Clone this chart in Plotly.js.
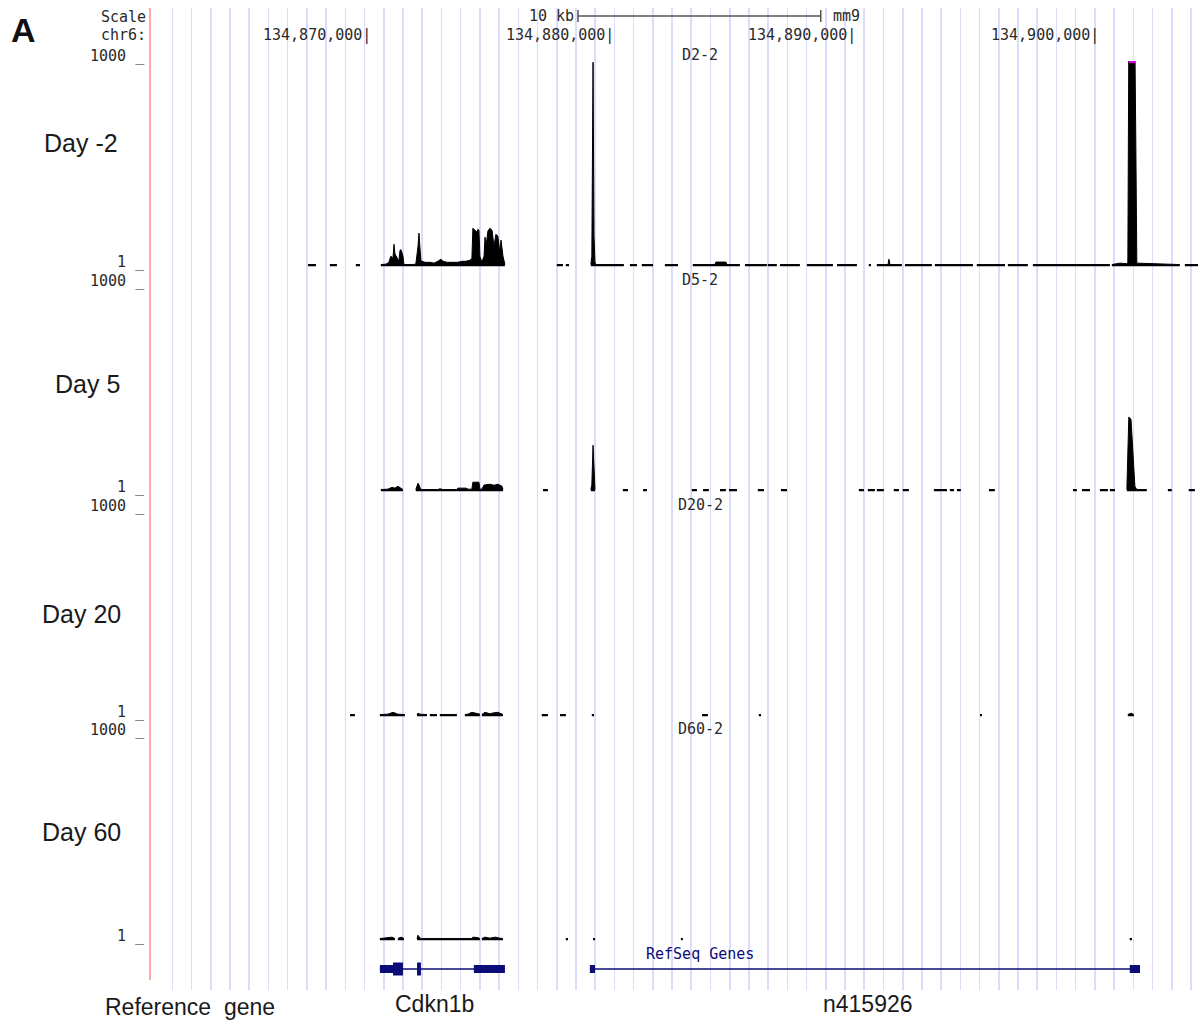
<!DOCTYPE html>
<html><head><meta charset="utf-8">
<script src="https://cdn.plot.ly/plotly-3.0.1.min.js"></script>
<style>html,body{margin:0;padding:0;background:#fff;}#chart{width:1198px;height:1022px;}</style>
</head><body><div id="chart"></div>
<script>
// ---------------- DATA (positions in kb on chr6, mm9; signal in view units) ----------------
const chromName = 'chr6:';
const assembly = 'mm9';
const viewStartKb = 134860.94, viewEndKb = 134904.11;
const rulerTicksKb = [134870, 134880, 134890, 134900];
const scaleBarStartKb = 134878.57, scaleBarLenKb = 10;
const trackNames = ['D2-2', 'D5-2', 'D20-2', 'D60-2'];
const trackLabels = ['Day -2', 'Day 5', 'Day 20', 'Day 60'];
const viewLimits = [1, 1000];

// Day -2 (D2-2) coverage segments
const d2Pos = [
  [134867.45, 134867.78], [134868.35, 134868.64], [134869.42, 134869.59],
  [134870.45, 134870.66, 134870.78, 134870.86, 134870.95, 134870.99, 134871.03, 134871.11, 134871.19, 134871.24,
   134871.28, 134871.36, 134871.40, 134871.73, 134871.89, 134871.98, 134872.02, 134872.06, 134872.10, 134872.14,
   134872.27, 134872.47, 134872.64, 134872.80, 134872.92, 134873.01, 134873.17, 134873.38, 134873.62, 134873.79,
   134873.95, 134874.12, 134874.20, 134874.24, 134874.32, 134874.41, 134874.45, 134874.49, 134874.53, 134874.61,
   134874.70, 134874.74, 134874.78, 134874.86, 134874.94, 134875.03, 134875.11, 134875.19, 134875.27, 134875.35,
   134875.40, 134875.48, 134875.56],
  [134877.70, 134877.95], [134878.07, 134878.20],
  [134879.10, 134879.14, 134879.19, 134879.23, 134879.27, 134879.31, 134880.46],
  [134880.71, 134881.00], [134881.20, 134881.66], [134882.15, 134882.69],
  [134883.30, 134884.21, 134884.25, 134884.66, 134884.71, 134885.24],
  [134885.45, 134886.35], [134886.39, 134886.76], [134886.89, 134887.71], [134888.00, 134889.07],
  [134889.24, 134890.06], [134890.55, 134890.64],
  [134890.88, 134891.34, 134891.38, 134891.42, 134891.91],
  [134892.04, 134893.15], [134893.27, 134894.84], [134895.00, 134896.16], [134896.28, 134897.10],
  [134897.31, 134900.48],
  [134900.56, 134900.89, 134901.18, 134901.22, 134901.26, 134901.51, 134901.55, 134901.59, 134903.36],
  [134903.57, 134904.11]
];
const d2Val = [
  [8, 8], [8, 8], [8, 8],
  [8, 10, 19, 49, 39, 107, 60, 40, 24, 78,
   80, 49, 8, 8, 10, 97, 161, 90, 30, 24,
   19, 19, 15, 24, 34, 24, 19, 19, 19, 24,
   24, 29, 39, 185, 175, 166, 180, 175, 49, 19,
   49, 141, 97, 171, 185, 175, 97, 156, 146, 68,
   127, 49, 8],
  [8, 8], [8, 8],
  [8, 49, 994, 146, 19, 8, 8],
  [8, 8], [8, 8], [8, 8],
  [8, 8, 20, 20, 8, 8],
  [8, 8], [8, 8], [8, 8], [8, 8],
  [8, 8], [8, 8],
  [8, 8, 34, 8, 8],
  [8, 8], [8, 8], [8, 8], [8, 8],
  [8, 8],
  [8, 15, 12, 19, 1100, 1100, 585, 15, 8],
  [8, 8]
];
// values above the view limit (drawn in magenta at the top)
const d2ClipStart = [134901.26], d2ClipEnd = [134901.51];

// Day 5 (D5-2)
const d5Pos = [
  [134870.45, 134870.74, 134870.91, 134871.03, 134871.15, 134871.28, 134871.36],
  [134871.89, 134871.98, 134872.02, 134872.10, 134872.80, 134872.88, 134873.01, 134873.58, 134873.62, 134873.95,
   134874.04, 134874.20, 134874.24, 134874.49, 134874.53, 134874.61, 134874.70, 134874.94, 134875.11, 134875.27,
   134875.44, 134875.48],
  [134877.13, 134877.33],
  [134879.10, 134879.14, 134879.19, 134879.23, 134879.27],
  [134880.42, 134880.63], [134881.25, 134881.41], [134883.26, 134883.47], [134883.72, 134883.96],
  [134884.42, 134884.66], [134884.79, 134885.12], [134885.98, 134886.23], [134886.93, 134887.18],
  [134890.14, 134890.35], [134890.51, 134890.80], [134890.88, 134891.17], [134891.58, 134891.79],
  [134891.95, 134892.20], [134893.23, 134893.77], [134893.89, 134894.06], [134894.18, 134894.34],
  [134895.50, 134895.74], [134898.96, 134899.12], [134899.33, 134899.66], [134900.07, 134900.40],
  [134900.48, 134900.69],
  [134901.18, 134901.22, 134901.26, 134901.35, 134901.43, 134901.51, 134901.59, 134902.00],
  [134902.87, 134903.03], [134903.73, 134903.98]
];
const d5Val = [
  [8, 10, 19, 15, 24, 15, 8],
  [8, 39, 30, 8, 8, 12, 8, 8, 15, 15,
   10, 10, 44, 44, 10, 10, 30, 34, 29, 34,
   24, 8],
  [8, 8],
  [8, 30, 224, 60, 8],
  [8, 8], [8, 8], [8, 8], [8, 8],
  [8, 8], [8, 8], [8, 8], [8, 8],
  [8, 8], [8, 8], [8, 8], [8, 8],
  [8, 8], [8, 8], [8, 8], [8, 8],
  [8, 8], [8, 8], [8, 8], [8, 8],
  [8, 8],
  [8, 292, 361, 351, 195, 24, 8, 8],
  [8, 8], [8, 8]
];

// Day 20 (D20-2)
const d20Pos = [
  [134869.18, 134869.38],
  [134870.41, 134870.74, 134870.95, 134871.15, 134871.44],
  [134871.94, 134871.98, 134872.06, 134872.35],
  [134872.47, 134872.76], [134872.88, 134873.58],
  [134873.91, 134874.04, 134874.20, 134874.37, 134874.53],
  [134874.61, 134874.74, 134874.94, 134875.03, 134875.27, 134875.48],
  [134877.08, 134877.33], [134877.83, 134878.07], [134879.14, 134879.23], [134883.68, 134883.92],
  [134886.02, 134886.11], [134895.13, 134895.21],
  [134901.22, 134901.35, 134901.47]
];
const d20Val = [
  [8, 8],
  [8, 10, 19, 10, 8],
  [8, 15, 10, 8],
  [8, 8], [8, 8],
  [8, 10, 19, 15, 10],
  [8, 19, 12, 15, 19, 8],
  [8, 8], [8, 8], [8, 8], [8, 8],
  [8, 8], [8, 8],
  [8, 15, 8]
];

// Day 60 (D60-2)
const d60Pos = [
  [134870.41, 134870.66, 134870.91, 134871.03],
  [134871.15, 134871.28, 134871.40],
  [134871.94, 134871.98, 134872.06, 134872.14, 134874.20, 134874.24, 134874.45, 134874.53],
  [134874.61, 134874.74, 134874.94, 134875.15, 134875.35, 134875.48],
  [134878.07, 134878.16], [134879.19, 134879.27], [134882.81, 134882.89], [134901.30, 134901.39]
];
const d60Val = [
  [8, 12, 15, 8],
  [8, 15, 8],
  [8, 24, 10, 8, 8, 15, 12, 8],
  [8, 15, 10, 15, 10, 8],
  [8, 8], [8, 8], [8, 8], [8, 8]
];

// RefSeq genes
const geneNames = ['Cdkn1b', 'n415926'];
const geneTxStart = [134870.41, 134879.06];
const geneTxEnd = [134875.56, 134901.72];
const exonGene = [0, 0, 0, 0, 1, 1];
const exonStart = [134870.41, 134870.95, 134871.94, 134874.28, 134879.06, 134901.30];
const exonEnd = [134870.95, 134871.36, 134872.10, 134875.56, 134879.27, 134901.72];
const exonCoding = [false, true, true, false, false, false];

// ---------------- LAYOUT HELPERS ----------------
const W = 1198, H = 1022;
const py = p => 1 - p / H;
const pxp = p => p / W;
const plotLeftPx = 150;
const trackBasePx = [266, 491, 716, 940];
const trackSpanPx = 205;
const yLow = -10;
const mono = 'DejaVu Sans Mono, Liberation Mono, monospace';
const sans = 'Liberation Sans, Arial, sans-serif';
const navy = '#0c0c78';
const ink = '#2a2a2a';
const monoSize = 15;

// guideline positions (every 0.7917 kb, UCSC-style light blue guides)
const guideStart = 134861.861, guideStep = 0.7917;
const guides = [];
for (let g = guideStart; g < viewEndKb; g += guideStep) guides.push(g);

const allPos = [d2Pos, d5Pos, d20Pos, d60Pos];
const allVal = [d2Val, d5Val, d20Val, d60Val];

const traces = [];
// grid backdrop subplot
traces.push({x: [], y: [], xaxis: 'x', yaxis: 'y', type: 'scatter', hoverinfo: 'skip', showlegend: false});

const layout = {
  width: W, height: H,
  margin: {l: 0, r: 0, t: 0, b: 0},
  paper_bgcolor: '#ffffff', plot_bgcolor: 'rgba(0,0,0,0)',
  showlegend: false,
  xaxis: {
    domain: [plotLeftPx / W, 1], range: [viewStartKb, viewEndKb], anchor: 'y',
    showgrid: true, gridcolor: '#dcdcff', gridwidth: 1.6,
    tickmode: 'array', tickvals: guides,
    showticklabels: false, ticks: '', zeroline: false, showline: false, fixedrange: true
  },
  yaxis: {
    domain: [py(980), py(8)], range: [0, 1], showgrid: false, zeroline: false,
    showticklabels: false, ticks: '', showline: false, anchor: 'x'
  },
  annotations: [], shapes: []
};

// pink left border of the image area
layout.shapes.push({type: 'line', xref: 'paper', yref: 'paper', x0: plotLeftPx / W, x1: plotLeftPx / W,
  y0: py(980), y1: py(8), line: {color: '#ff8c8c', width: 1.5}, layer: 'above'});

const vSpan = viewLimits[1] - viewLimits[0];
allPos.forEach((P, i) => {
  const ax = 'y' + (i + 2);
  const base = trackBasePx[i];
  const bottomPx = base + (viewLimits[0] - yLow) * trackSpanPx / vSpan;
  layout['yaxis' + (i + 2)] = {
    domain: [py(bottomPx), py(base - trackSpanPx)], range: [yLow, viewLimits[1]],
    showgrid: false, zeroline: false, showticklabels: false, ticks: '', showline: false, anchor: 'x'
  };
  P.forEach((seg, k) => {
    traces.push({
      x: seg, y: allVal[i][k], xaxis: 'x', yaxis: ax, type: 'scatter', mode: 'lines',
      line: {color: '#000000', width: 1}, fill: 'tozeroy', fillcolor: '#000000', hoverinfo: 'skip'
    });
  });
  // view limit labels
  layout.annotations.push({
    xref: 'paper', yref: ax, x: (plotLeftPx - 3) / W, y: viewLimits[1], xanchor: 'right', yanchor: 'middle',
    yshift: 5, text: viewLimits[1] + ' _', showarrow: false, font: {family: mono, size: monoSize, color: ink}
  });
  layout.annotations.push({
    xref: 'paper', yref: ax, x: (plotLeftPx - 3) / W, y: viewLimits[0], xanchor: 'right', yanchor: 'middle',
    yshift: 4, text: viewLimits[0] + ' _', showarrow: false, font: {family: mono, size: monoSize, color: ink}
  });
  // track short label
  layout.annotations.push({
    xref: 'paper', yref: ax, x: pxp(700), y: viewLimits[1], xanchor: 'center', yanchor: 'middle',
    yshift: 6, text: trackNames[i], showarrow: false, font: {family: mono, size: monoSize, color: ink}
  });
  // Day label
  layout.annotations.push({
    xref: 'paper', yref: 'paper', x: pxp([42, 53, 40, 40][i]), y: py([143, 384, 614, 832][i]),
    xanchor: 'left', yanchor: 'middle', text: trackLabels[i], showarrow: false,
    font: {family: sans, size: 25, color: '#1a1a1a'}
  });
});

// clipped values on D2-2
d2ClipStart.forEach((s, k) => {
  traces.push({x: [s, d2ClipEnd[k]], y: [viewLimits[1] - 4, viewLimits[1] - 4], xaxis: 'x', yaxis: 'y2',
    type: 'scatter', mode: 'lines', line: {color: '#e000e0', width: 3}, hoverinfo: 'skip'});
});

// gene track
layout.yaxis6 = {domain: [py(990), py(948)], range: [-1, 1], showgrid: false, zeroline: false,
  showticklabels: false, ticks: '', showline: false, anchor: 'x'};
geneNames.forEach((g, i) => {
  traces.push({x: [geneTxStart[i], geneTxEnd[i]], y: [0, 0], xaxis: 'x', yaxis: 'y6', type: 'scatter',
    mode: 'lines', line: {color: navy, width: 1.5}, hoverinfo: 'skip'});
});
exonStart.forEach((s, k) => {
  traces.push({x: [s, exonEnd[k]], y: [0, 0], xaxis: 'x', yaxis: 'y6', type: 'scatter', mode: 'lines',
    line: {color: navy, width: exonCoding[k] ? 13 : 8}, hoverinfo: 'skip'});
});
layout.annotations.push({xref: 'paper', yref: 'paper', x: pxp(700), y: py(954), xanchor: 'center', yanchor: 'middle',
  text: 'RefSeq Genes', showarrow: false, font: {family: mono, size: monoSize, color: navy}});

// ruler
layout.annotations.push({xref: 'paper', yref: 'paper', x: pxp(148), y: py(17), xanchor: 'right', yanchor: 'middle',
  text: 'Scale', showarrow: false, font: {family: mono, size: monoSize, color: ink}});
layout.annotations.push({xref: 'paper', yref: 'paper', x: pxp(148), y: py(35), xanchor: 'right', yanchor: 'middle',
  text: chromName, showarrow: false, font: {family: mono, size: monoSize, color: ink}});
rulerTicksKb.forEach(t => {
  layout.annotations.push({xref: 'x', yref: 'paper', x: t, y: py(35), xanchor: 'right', yanchor: 'middle', xshift: 3,
    text: Math.round(t * 1000).toLocaleString('en-US') + '|', showarrow: false, font: {family: mono, size: monoSize, color: ink}});
});
const sbEnd = scaleBarStartKb + scaleBarLenKb;
layout.shapes.push({type: 'line', xref: 'x', yref: 'paper', x0: scaleBarStartKb, x1: sbEnd, y0: py(16), y1: py(16), line: {color: '#555', width: 1.5}});
layout.shapes.push({type: 'line', xref: 'x', yref: 'paper', x0: scaleBarStartKb, x1: scaleBarStartKb, y0: py(10), y1: py(22), line: {color: '#555', width: 1.5}});
layout.shapes.push({type: 'line', xref: 'x', yref: 'paper', x0: sbEnd, x1: sbEnd, y0: py(10), y1: py(22), line: {color: '#555', width: 1.5}});
layout.annotations.push({xref: 'x', yref: 'paper', x: scaleBarStartKb, y: py(16), xanchor: 'right', yanchor: 'middle', xshift: -2,
  text: scaleBarLenKb + ' kb', showarrow: false, font: {family: mono, size: monoSize, color: ink}});
layout.annotations.push({xref: 'x', yref: 'paper', x: sbEnd, y: py(16), xanchor: 'left', yanchor: 'middle', xshift: 10,
  text: assembly, showarrow: false, font: {family: mono, size: monoSize, color: ink}});

// figure labels
layout.annotations.push({xref: 'paper', yref: 'paper', x: pxp(9), y: py(30), xanchor: 'left', yanchor: 'middle',
  text: '<b>A</b>', showarrow: false, font: {family: sans, size: 34, color: '#111'}});
layout.annotations.push({xref: 'paper', yref: 'paper', x: pxp(103), y: py(1007), xanchor: 'left', yanchor: 'middle',
  text: 'Reference\u00a0 gene', showarrow: false, font: {family: sans, size: 23, color: '#1a1a1a'}});
layout.annotations.push({xref: 'paper', yref: 'paper', x: pxp(434), y: py(1004), xanchor: 'center', yanchor: 'middle',
  text: geneNames[0], showarrow: false, font: {family: sans, size: 23, color: '#1a1a1a'}});
layout.annotations.push({xref: 'paper', yref: 'paper', x: pxp(868), y: py(1004), xanchor: 'center', yanchor: 'middle',
  text: geneNames[1], showarrow: false, font: {family: sans, size: 23, color: '#1a1a1a'}});

Plotly.newPlot('chart', traces, layout, {displayModeBar: false, staticPlot: true});
</script>
</body></html>
